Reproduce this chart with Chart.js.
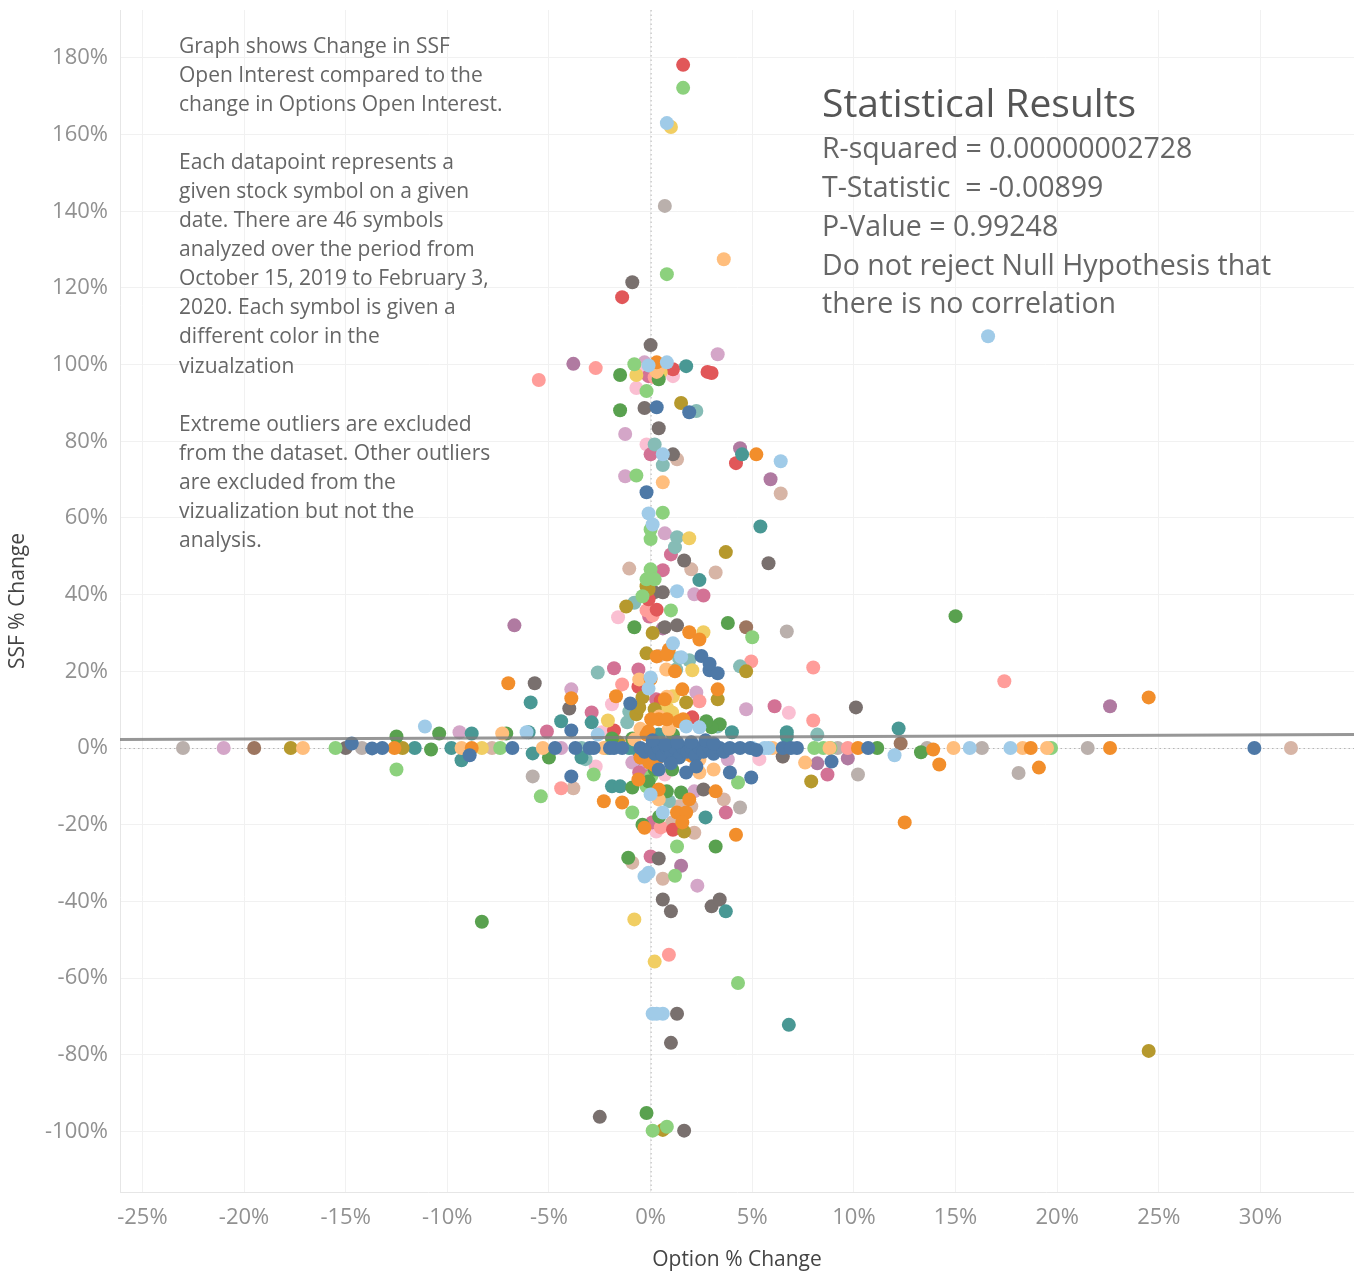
<!doctype html>
<html lang="en">
<head>
<meta charset="UTF-8">
<title>SSF % Change vs Option % Change</title>
<script src="https://cdn.jsdelivr.net/npm/chart.js@4.4.1/dist/chart.umd.min.js"></script>
<style>
  html, body { margin: 0; padding: 0; background: #fff; }
  canvas { display: block; }
</style>
</head>
<body>
<canvas id="canvas" width="1354" height="1273"></canvas>
<script>
// points per symbol colour, [option % change, ssf % change]
const blue = [[-14.7,1.2],[-13.7,-0.1],[-13.2,0],[-8.9,-1.9],[-6.8,0],[-4.7,0],[-3.9,4.6],[-3.7,0],[-3.0,0],[-2.8,0],[-2.0,0],[-1.8,0],[-1.4,0],[-1.0,11.6],[-3.9,-7.4],[-0.2,66.7],[0.3,88.9],[1.9,87.6],[2.5,24.0],[2.9,20.3],[3.3,19.5],
  [-0.5,0],[-0.3,-1],[0,0],[0.2,-1.5],[0.4,0],[0.6,-2],[0.8,0],[1.0,-1],[1.2,0],[1.4,-2.5],[1.6,0],[1.8,-1],[2.0,0],[2.2,-2],[2.4,0],[2.6,-1],[2.9,0],[3.1,-1.5],[3.4,0],[3.6,-1],[3.9,0],[4.4,0],[4.9,0],[0.4,-5.6],[1.0,-4],[1.75,-6.4],[2.25,-4.8],[3.9,-6.4],[4.95,-7.7],[0.7,1],[1.3,1.5],[2.0,1.5],[2.7,2],[3.1,1.2],[0.1,2],[5.2,-0.5],
  [6.5,0],[6.9,0],[7.2,0],[8.9,-3.5],[10.7,0],[29.7,0],[2.9,22.0]];
const lightBlue = [[0.8,163.0],[16.6,107.4],[-0.1,99.8],[0.6,76.6],[6.4,74.8],[-0.1,61.2],[0.1,58.3],[1.3,40.9],[1.1,27.3],[0.0,18.4],[2.4,5.4],[-11.1,5.6],[-6.1,4.1],[12.0,-1.9],[15.7,0],[17.7,0],[0.0,-12.1],[0.6,-16.8],[-0.1,-32.5],[0.1,-69.3],[0.6,-69.3],[0.3,-69.3],[5.0,0],[5.6,0],[-0.3,-33.5],[1.5,23.7],
  [0.8,100.6],[1.75,5.6],[-2.6,3.5],[-0.1,15.5],[5.8,0]];
const orange = [[-7.0,16.9],[-3.9,13.0],[-1.7,13.5],[1.9,30.2],[3.3,15.3],[1.65,6.7],[5.2,76.6],[-12.6,0],[-8.8,0],[-2.3,-13.9],[-1.4,-14.2],[1.3,-16.8],[3.2,-11.3],[4.2,-22.6],[10.2,0],[13.9,-0.4],[14.2,-4.3],[18.7,0],[19.1,-5.1],[12.5,-19.4],[22.6,0],[24.5,13.2],
  [-0.4,-0.4],[-0.1,-1.7],[0.3,-3],[-0.2,3.5],[0.4,7.5],[0.7,12.7],[0.0,18.0],[0.9,25.7],[2.4,28.3],[-0.6,-8.2],[0.4,-10.8],[1.9,-13.4],[-0.3,-20.8],[0.8,7.5],[1.6,7.5],[-0.1,4.3],[-0.5,-2.5],[0.2,-4.5],[2.0,-2.0],[1.2,20],
  [0.3,23.9],[0.8,24.4],[1.56,15.3],[0.03,7.5],[1.4,7.0],[-0.07,-3.8],[1.75,-16.8],[1.56,-19.4],[0.3,100.6]];
const lightOrange = [[3.6,127.5],[0.4,99.3],[0.6,69.3],[-17.1,0],[-9.3,0],[-7.3,3.8],[-5.3,0],[7.6,-3.8],[14.9,0],[18.3,0],[19.5,0],[-0.8,2.2],[0.9,4.9],[2.4,-3.0],[0.4,-13.4],[3.1,-5.6],[-0.5,5],[-2.3,0],[0.8,13.4],[8.8,0],
  [-0.56,17.9],[0.42,8.2],[0.77,20.5],[2.4,-6.4],[0.3,98.1],[6.0,0]];
const green = [[-1.5,97.3],[-1.5,88.1],[-0.8,31.5],[3.8,32.6],[15.0,34.4],[-12.5,3.0],[-10.8,-0.4],[-10.4,3.8],[-7.1,3.8],[-5.0,-2.5],[-0.9,-10.3],[-0.4,-20.0],[-0.1,-8.7],[3.2,-25.7],[-1.1,-28.6],[-0.2,-95.2],[11.15,0],[13.3,-1.1],[-8.3,-45.3],[3.4,6.2],[0.2,-5.6],[0.8,-11.3],[1.5,-11.6],[-1.9,2.5],[1.1,3.5],
  [3.0,5.4],[1.06,-5.6],[0.42,-17.9],[0.4,96.2],[-0.9,2.5],[2.74,7.0]];
const lightGreen = [[1.6,172.2],[0.8,123.6],[-0.8,100.1],[-0.7,71.1],[0.6,61.4],[0.0,57.0],[0.0,54.5],[0.0,46.6],[0.2,44.0],[5.0,28.9],[-15.5,0],[-12.5,-5.6],[-7.4,0],[-5.4,-12.6],[-0.9,-16.8],[1.3,-25.7],[1.2,-33.3],[4.3,-61.3],[0.1,-99.8],[0.8,-98.8],[8.05,0],[8.5,0],[8.85,0],[19.7,0],[-2.8,-6.9],[1.0,35.9],[-0.2,93.1],[4.3,-9.0],
  [-0.4,39.6],[0.03,-7.4],[-2.2,0],[-0.2,-10.0],[-0.2,44.0]];
const olive = [[1.5,90.0],[3.7,51.1],[-0.1,41.4],[-0.2,42.2],[4.7,20.0],[3.3,12.7],[-0.7,8.8],[-17.7,0],[-12.2,0],[1.65,-21.8],[7.9,-8.7],[0.6,-99.6],[24.5,-79.0],[0.2,10.1],[-0.2,24.7],[-1.2,36.9],[0.1,30],
  [-0.4,13.2],[1.75,11.9],[-1.6,1.5],[-0.56,10.6]];
const yellow = [[1.0,162.0],[1.9,54.7],[2.6,30.2],[-2.1,7.2],[0.8,10.6],[2.05,20.3],[-8.3,0],[-0.8,-44.7],[0.2,-55.7],[0.5,98.1],[1.1,13.5],[1.5,-2.0],
  [1.06,9.3],[-0.7,97.3]];
const teal = [[1.75,99.6],[4.5,76.6],[5.4,57.8],[2.4,43.8],[-5.9,11.9],[-4.4,7.0],[-2.9,6.7],[-11.6,0],[-9.8,0],[-9.3,-3.2],[-8.8,3.8],[-6.0,4.1],[-5.8,-1.4],[-3.4,-2.5],[-1.9,-10.0],[-1.5,-10.0],[6.7,4.1],[6.7,3.0],[12.2,5.1],[2.7,-18.1],[3.7,-42.6],[6.8,-72.2],[0.4,3.5],[-1.05,0],[4.0,4.1],
  [-0.8,0]];
const lightTeal = [[2.25,87.9],[0.2,79.2],[0.6,73.8],[1.2,52.4],[-2.6,19.7],[-1.15,6.7],[4.4,21.3],[8.2,3.5],[-3.2,-2.9],[0.2,-12.1],[1.9,22.9],[-0.8,37.9],[1.3,55],
  [1.4,23.5],[-1.05,9.5],[0.9,-13.9],[-3.4,0],[1.26,20.5],[3.28,5.6]];
const red = [[1.6,178.2],[-1.4,117.6],[2.8,98.1],[3.0,97.8],[4.2,74.3],[-1.8,4.6],[0.5,12.4],[2.05,8.0],[1.1,-21.3],[-0.1,38.8],[-0.6,16.0],
  [0.3,36.1],[1.1,98.8]];
const pink = [[-2.7,99.1],[-5.5,96.0],[-1.4,16.6],[2.4,12.2],[4.95,22.6],[8.0,21.0],[8.0,7.2],[9.7,0],[-4.4,-10.5],[0.5,-20.7],[0.9,-53.9],[17.4,17.4],[0.1,34.6],[-0.2,35.9],[0.2,96.7],
  [-1.2,0.5]];
const gray = [[-0.9,121.5],[0.0,105.1],[-0.3,88.7],[0.4,83.4],[1.1,76.6],[1.65,48.9],[5.8,48.2],[0.7,31.5],[-5.7,16.9],[-4.0,10.3],[-15.0,0],[2.6,-10.8],[0.4,-28.8],[0.6,-39.5],[1.0,-42.6],[3.0,-41.3],[3.4,-39.5],[1.3,-69.3],[1.0,-76.9],[-2.5,-96.2],[1.65,-99.8],[10.1,10.6],[6.5,-2.2],[0.6,40.6],[1.3,32],
  [0.18,40.6],[-0.17,40.6]];
const lightGray = [[0.7,141.4],[-23.0,0],[-14.2,0],[-5.8,-7.4],[4.4,-15.5],[6.7,30.4],[9.2,0],[10.2,-6.9],[13.6,0],[16.3,0],[18.1,-6.5],[21.5,0]];
const magenta = [[0.0,76.6],[1.0,50.5],[0.6,46.4],[2.6,39.8],[-1.8,20.8],[-2.9,9.3],[-5.1,4.3],[6.1,10.9],[3.7,-16.8],[8.7,-6.9],[0.0,-28.3],[-0.2,-7.4],[-0.6,20.5],[-0.1,97],
  [0.27,12.7],[-0.56,-6.4],[0.08,-19.4],[-0.07,34.3]];
const lightPink = [[-0.2,79.2],[-1.6,34.1],[-1.9,11.4],[-2.7,-4.8],[6.8,9.2],[0.7,-6.9],[-0.6,98.8],[-0.7,93.9],[-2.4,4.1],
  [5.35,-2.9],[0.28,-21.8],[1.1,97.0]];
const purple = [[-3.8,100.2],[4.4,78.2],[5.9,70.1],[-6.7,32.0],[1.5,-30.7],[8.2,-4.0],[9.7,-2.7],[22.6,10.9],[0.6,31.2]];
const lightPurple = [[3.3,102.7],[-1.25,81.9],[-1.25,70.9],[0.7,56.0],[2.15,40.1],[-3.9,15.3],[4.7,10.1],[-21.0,0],[-9.4,4.1],[2.3,-35.9],[-0.3,-5.6],[-0.3,100.6],[3.8,-3.0],
  [2.25,14.5],[-0.9,-3.8],[2.15,-11.3],[-4.4,0]];
const brown = [[4.7,31.5],[-19.5,0],[12.3,1.2],[-0.6,-3.0]];
const lightBrown = [[1.3,75.3],[6.4,66.4],[2.0,46.6],[3.2,45.8],[-1.05,46.8],[-3.8,-10.5],[2.15,-22.1],[0.6,-34.1],[-0.9,-29.9],[3.6,-13.4],[31.5,0],[-7.8,0],[0.4,24.0],
  [1.4,-15.2],[2.0,-15.2],[6.5,-2.2],[1.06,-19.4]];

// linear trend line endpoints
const trendX = [-26.1, 34.6];
const trendY = [2.25, 3.55];

const noteLines = [
  'Graph shows Change in SSF',
  'Open Interest compared to the',
  'change in Options Open Interest.',
  '',
  'Each datapoint represents a',
  'given stock symbol on a given',
  'date. There are 46 symbols',
  'analyzed over the period from',
  'October 15, 2019 to February 3,',
  '2020. Each symbol is given a',
  'different color in the',
  'vizualzation',
  '',
  'Extreme outliers are excluded',
  'from the dataset. Other outliers',
  'are excluded from the',
  'vizualization but not the',
  'analysis.'
];
const statTitle = 'Statistical Results';
const statLines = [
  'R-squared = 0.00000002728',
  'T-Statistic  = -0.00899',
  'P-Value = 0.99248',
  'Do not reject Null Hypothesis that',
  'there is no correlation'
];

const series = [
  ['#4E79A7', blue], ['#A0CBE8', lightBlue], ['#F28E2B', orange], ['#FFBE7D', lightOrange],
  ['#59A14F', green], ['#8CD17D', lightGreen], ['#B6992D', olive], ['#F1CE63', yellow],
  ['#499894', teal], ['#86BCB6', lightTeal], ['#E15759', red], ['#FF9D9A', pink],
  ['#79706E', gray], ['#BAB0AC', lightGray], ['#D37295', magenta], ['#FABFD2', lightPink],
  ['#B07AA1', purple], ['#D4A6C8', lightPurple], ['#9D7660', brown], ['#D7B5A6', lightBrown]
];

const FONT = '"Open Sans", sans-serif';

const datasets = [{
  type: 'line',
  data: trendX.map((x, i) => ({ x: x, y: trendY[i] })),
  borderColor: 'rgba(125,125,125,0.8)',
  borderWidth: 3,
  pointRadius: 0,
  order: 0
}];
series.forEach((s, i) => {
  datasets.push({
    data: s[1].map(p => ({ x: p[0], y: p[1] })),
    backgroundColor: s[0],
    borderWidth: 0,
    pointRadius: 7,
    pointHoverRadius: 7,
    order: i === 0 ? 1 : 2 + i
  });
});

const notes = {
  id: 'notes',
  beforeDatasetsDraw(chart) {
    const ctx = chart.ctx, a = chart.chartArea;
    const x0 = chart.scales.x.getPixelForValue(0);
    const y0 = chart.scales.y.getPixelForValue(0);
    ctx.save();
    ctx.strokeStyle = '#b4b4b4';
    ctx.lineWidth = 1;
    ctx.setLineDash([1.5, 3]);
    ctx.beginPath();
    ctx.moveTo(a.left, y0 + 0.5); ctx.lineTo(a.right, y0 + 0.5);
    ctx.moveTo(x0 + 0.5, a.top); ctx.lineTo(x0 + 0.5, a.bottom);
    ctx.stroke();
    ctx.restore();
  },
  afterDraw(chart) {
    const ctx = chart.ctx;
    ctx.save();
    ctx.textAlign = 'left';
    ctx.textBaseline = 'middle';
    ctx.fillStyle = '#666';
    ctx.font = '21px ' + FONT;
    noteLines.forEach((t, i) => ctx.fillText(t, 179, 47 + i * 29.05));
    ctx.fillStyle = '#555';
    ctx.font = '39px ' + FONT;
    ctx.fillText(statTitle, 822, 106);
    ctx.fillStyle = '#666';
    ctx.font = '28.5px ' + FONT;
    statLines.forEach((t, i) => ctx.fillText(t, 822, 150 + i * 38.8));
    ctx.restore();
  }
};

new Chart(document.getElementById('canvas'), {
  type: 'scatter',
  data: { datasets: datasets },
  options: {
    responsive: false,
    animation: false,
    layout: { autoPadding: false, padding: { top: 10, right: 0, left: 0, bottom: 0 } },
    plugins: { legend: { display: false }, tooltip: { enabled: false } },
    scales: {
      x: {
        type: 'linear',
        min: -26.1,
        max: 34.6,
        grid: { color: '#f1f1f1', drawTicks: false },
        border: { color: '#e6e6e6' },
        ticks: {
          stepSize: 5,
          includeBounds: false,
          padding: 13,
          color: '#919191',
          font: { family: FONT, size: 22 },
          callback: v => v + '%'
        },
        title: {
          display: true,
          text: 'Option % Change',
          color: '#444',
          font: { family: FONT, size: 21 },
          padding: { top: 0, bottom: 0 }
        },
        afterFit: s => { s.height = 81; s.paddingLeft = 0; s.paddingRight = 0; }
      },
      y: {
        type: 'linear',
        min: -115.8,
        max: 192.5,
        grid: { color: '#f1f1f1', drawTicks: false },
        border: { color: '#e6e6e6' },
        ticks: {
          stepSize: 20,
          includeBounds: false,
          padding: 12,
          color: '#919191',
          font: { family: FONT, size: 22 },
          callback: v => v + '%'
        },
        title: {
          display: true,
          text: 'SSF % Change',
          color: '#444',
          font: { family: FONT, size: 21 },
          padding: { top: 5, bottom: 0 }
        },
        afterFit: s => { s.width = 120; s.paddingTop = 0; s.paddingBottom = 0; }
      }
    }
  },
  plugins: [notes]
});
</script>
</body>
</html>
